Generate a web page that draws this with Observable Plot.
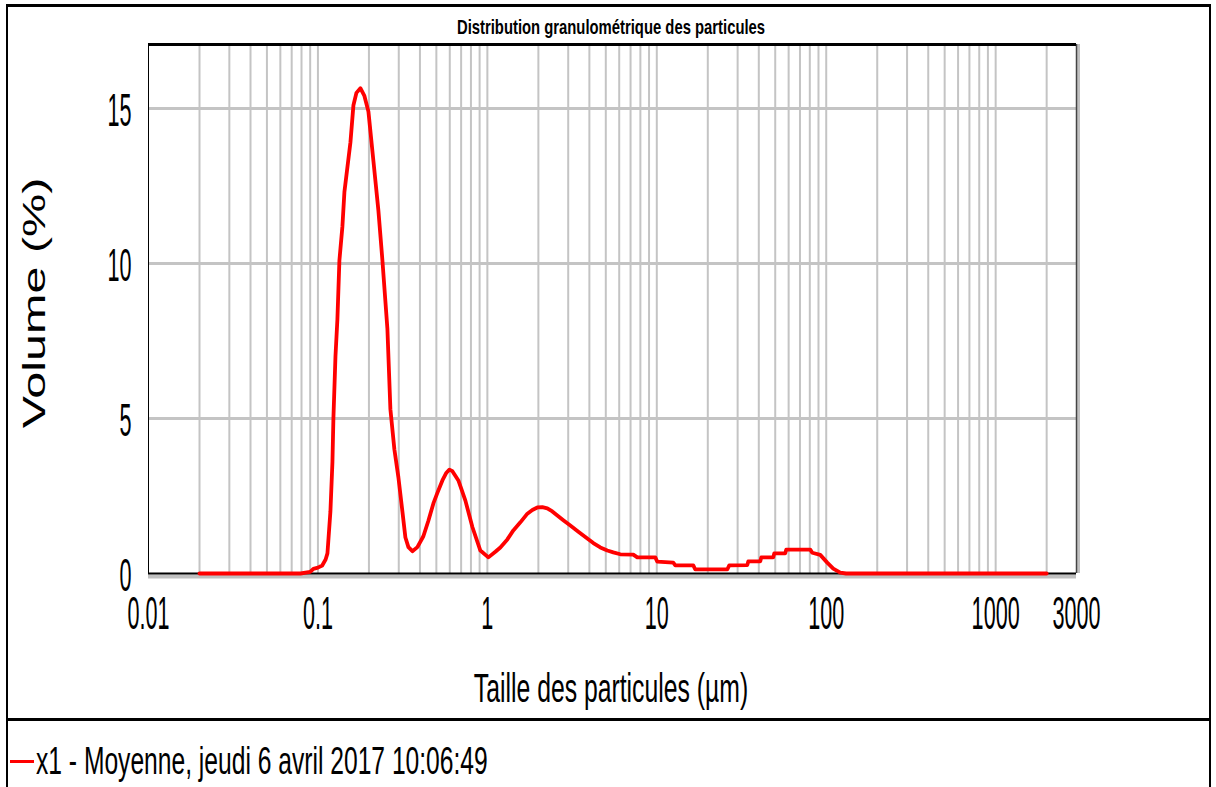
<!DOCTYPE html>
<html>
<head>
<meta charset="utf-8">
<script src="https://cdn.jsdelivr.net/npm/d3@7"></script>
<script src="https://cdn.jsdelivr.net/npm/@observablehq/plot@0.6"></script>
<style>
  html, body { margin: 0; padding: 0; background: #fff; }
  #wrap { position: relative; width: 1216px; height: 787px; overflow: hidden; background: #fff; font-family: "Liberation Sans", Arial, sans-serif; }
  #chart { position: absolute; left: 0; top: 0; }
  .lbl { position: absolute; white-space: nowrap; line-height: 1; color: #000; }
  .border { position: absolute; background: #000; }
</style>
</head>
<body>
<div id="wrap">
  <div id="chart"></div>
  <div class="border" style="left:6px; top:4px; width:1205px; height:3px;"></div>
  <div class="border" style="left:6px; top:4px; width:2px; height:790px;"></div>
  <div class="border" style="left:1209px; top:4px; width:2px; height:790px;"></div>
  <div class="border" style="left:6px; top:718px; width:1205px; height:3px;"></div>
  <div class="lbl" id="title" style="left:611px; top:16px; font-size:21px; font-weight:bold; transform: translateX(-50%) scaleX(0.706);">Distribution granulométrique des particules</div>
  <div class="lbl" id="ytitle" style="left:34px; top:303px; font-size:30.5px; transform: translate(-50%,-50%) rotate(-90deg) scaleX(1.59);">Volume (%)</div>
  <div class="lbl" id="xtitle" style="left:611px; top:668px; font-size:40px; transform: translateX(-50%) scaleX(0.619);">Taille des particules (µm)</div>
  <div style="position:absolute; left:10px; top:760px; width:24px; height:3px; background:#ff0000;"></div>
  <div class="lbl" id="legend" style="left:36px; top:742px; font-size:38px; transform-origin: left center; transform: scaleX(0.648);">x1 - Moyenne, jeudi 6 avril 2017 10:06:49</div>
</div>
<script>
// Particle size (µm) and volume (%)
const sizes = [0.02, 0.04, 0.079, 0.090, 0.094, 0.100, 0.106, 0.111, 0.1138, 0.1185, 0.1218, 0.1234, 0.1269, 0.1303, 0.1339, 0.1395, 0.1433, 0.1555, 0.1620, 0.1687, 0.1781, 0.1881, 0.1986, 0.2126, 0.2275, 0.2402, 0.2570, 0.2677, 0.2827, 0.2985, 0.3152, 0.3283, 0.3420, 0.3611, 0.3864, 0.4191, 0.4486, 0.4802, 0.5070, 0.5427, 0.5731, 0.5970, 0.6219, 0.6745, 0.7419, 0.8157, 0.9093, 1.014, 1.115, 1.193, 1.312, 1.423, 1.566, 1.722, 1.843, 1.972, 2.111, 2.259, 2.418, 2.588, 2.807, 3.088, 3.443, 3.890, 4.221, 4.642, 5.105, 5.538, 6.090, 7.267, 7.674, 9.799, 10.07, 12.51, 12.86, 16.42, 16.87, 26.06, 26.77, 34.2, 34.66, 40.8, 41.36, 48.7, 49.34, 57.3, 58.07, 80.5, 82.7, 92.2, 101.4, 110, 121, 131, 2000];
const volumes = [0, 0, 0, 0.05, 0.15, 0.19, 0.26, 0.45, 0.65, 2.0, 3.6, 5.0, 7.0, 8.2, 10.1, 11.2, 12.3, 13.9, 15.1, 15.5, 15.65, 15.4, 14.9, 13.3, 11.7, 10.1, 7.9, 5.3, 4.0, 3.1, 2.0, 1.16, 0.85, 0.72, 0.85, 1.2, 1.7, 2.26, 2.6, 3.0, 3.25, 3.35, 3.3, 3.0, 2.35, 1.5, 0.74, 0.52, 0.7, 0.84, 1.1, 1.39, 1.65, 1.93, 2.05, 2.13, 2.14, 2.1, 2.0, 1.87, 1.72, 1.55, 1.35, 1.13, 0.98, 0.84, 0.74, 0.68, 0.62, 0.61, 0.52, 0.52, 0.38, 0.35, 0.26, 0.26, 0.13, 0.13, 0.26, 0.27, 0.39, 0.39, 0.52, 0.52, 0.65, 0.65, 0.77, 0.77, 0.67, 0.6, 0.35, 0.16, 0.03, 0, 0];

const xTicks = [0.01, 0.1, 1, 10, 100, 1000, 3000];
const xTickLabels = ["0.01", "0.1", "1", "10", "100", "1000", "3000"];
const yTicks = [0, 5, 10, 15];
const yTickLabels = ["0", "5", "10", "15"];
const gridX = [0.02,0.03,0.04,0.05,0.06,0.07,0.08,0.09,0.1,0.2,0.3,0.4,0.5,0.6,0.7,0.8,0.9,1,2,3,4,5,6,7,8,9,10,20,30,40,50,60,70,80,90,100,200,300,400,500,600,700,800,900,1000,2000];
const gridY = [5, 10, 15];

const data = sizes.map((s, i) => ({size: s, vol: volumes[i]}));
const xTickData = xTicks.map((v, i) => ({v, label: xTickLabels[i]}));

const chart = Plot.plot({
  className: "g",
  width: 1216,
  height: 720,
  marginLeft: 148,
  marginRight: 140,
  marginTop: 44,
  marginBottom: 147,
  style: {background: "transparent", overflow: "visible", fontFamily: "Liberation Sans, Arial, sans-serif", fontSize: "46px", color: "#000"},
  x: {type: "log", domain: [0.01, 3000], axis: null},
  y: {domain: [0, 17.06], axis: null},
  marks: [
    Plot.ruleY([0], {stroke: "#c0c0c0", strokeWidth: 4, dy: 3}),
    Plot.ruleX([3000], {stroke: "#c0c0c0", strokeWidth: 3, dx: 2}),
    Plot.ruleX(gridX, {stroke: "#c4c4c4", strokeWidth: 2}),
    Plot.ruleY(gridY, {stroke: "#c4c4c4", strokeWidth: 3}),
    Plot.ruleX([0.01], {stroke: "#000", strokeWidth: 1}),
    Plot.ruleX([3000], {stroke: "#444", strokeWidth: 1.5}),
    Plot.ruleY([17.06], {stroke: "#000", strokeWidth: 3}),
    Plot.ruleY([0], {stroke: "#000", strokeWidth: 2}),
    Plot.line(data, {x: "size", y: "vol", stroke: "#ff0000", strokeWidth: 3.8}),
    Plot.text(xTickData, {x: "v", text: "label", frameAnchor: "bottom", lineAnchor: "top", dy: 23, fontSize: 46, fill: "#000"}),
    Plot.axisY(yTicks, {tickSize: 0, tickPadding: 17, dy: 3, tickFormat: (d) => yTickLabels[yTicks.indexOf(d)], label: null, fill: "#000"})
  ]
});
document.getElementById("chart").appendChild(chart);
// condense tick labels horizontally, keeping Plot's placement
chart.querySelectorAll('g[aria-label="text"] text, g[aria-label="y-axis tick label"] text').forEach(t => {
  const L = t.getComputedTextLength();
  t.setAttribute("textLength", (L * 0.47).toFixed(2));
  t.setAttribute("lengthAdjust", "spacingAndGlyphs");
});
</script>
</body>
</html>
